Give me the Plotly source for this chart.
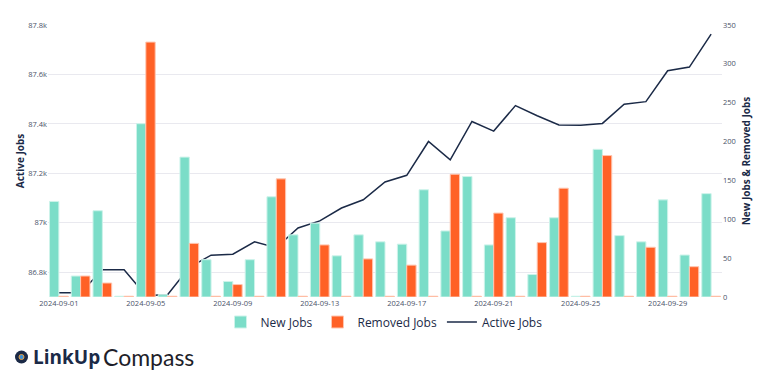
import plotly.graph_objects as go
import pandas as pd

dates = pd.date_range("2024-09-01", "2024-10-01", freq="D").strftime("%Y-%m-%d").tolist()

new_jobs = [123, 27, 111, 1, 223, 3, 180, 48, 20, 48, 129, 80, 95, 53, 80, 71, 68, 138,
            85, 155, 67, 102, 29, 102, 1, 190, 79, 71, 125, 54, 133]
removed_jobs = [1, 27, 18, 1, 328, 1, 69, 1, 16, 1, 152, 1, 67, 1, 49, 1, 41, 1,
                158, 1, 108, 1, 70, 140, 1, 182, 1, 64, 1, 39, 1]
active_jobs = [86717, 86717, 86810, 86810, 86706, 86709, 86820, 86869, 86873, 86923, 86899,
               86979, 87008, 87060, 87093, 87165, 87192, 87329, 87255, 87410, 87371,
               87474, 87433, 87396, 87395, 87402, 87480, 87490, 87615, 87630, 87763]

TEAL = "#7BDDC8"
ORANGE = "#FF6126"
NAVY = "#1B2A47"
TICK = "#4A5268"
FONT = "Open Sans"

# page is offset by the 8px body margin
OFF = 8

fig = go.Figure()
fig.add_trace(go.Bar(x=dates, y=new_jobs, name="New Jobs", yaxis="y2",
                     marker=dict(color=TEAL, line=dict(color="#CDF3EA", width=1))))
fig.add_trace(go.Bar(x=dates, y=removed_jobs, name="Removed Jobs", yaxis="y2",
                     marker=dict(color=ORANGE, line=dict(color="#FFC6B0", width=1))))
fig.add_trace(go.Scatter(x=dates, y=active_jobs, name="Active Jobs", mode="lines",
                         line=dict(color=NAVY, width=1.5)))

fig.update_layout(
    width=768, height=382,
    margin=dict(l=48 - OFF, r=46 + OFF, t=25 - OFF, b=85 + OFF, autoexpand=False),
    paper_bgcolor="white", plot_bgcolor="white",
    font=dict(family=FONT, color=TICK, size=8),
    barmode="group", bargap=0.14, bargroupgap=0,
    showlegend=True,
    legend=dict(orientation="h", x=(384 - OFF) / 768, xanchor="center", xref="container",
                y=1 - (322 - OFF) / 382, yanchor="middle", yref="container",
                font=dict(size=12, color=NAVY, family=FONT),
                traceorder="normal"),
    xaxis=dict(type="date", range=["2024-08-31 12:00", "2024-10-01 12:00"],
               tick0="2024-09-01", dtick=4 * 86400000, tickformat="%Y-%m-%d",
               showgrid=False, zeroline=False, showline=False, ticks="", automargin=False,
               tickfont=dict(size=7.5, color=TICK)),
    yaxis=dict(range=[86700, 87800], dtick=200, tickformat="~s", automargin=False,
               showgrid=True, gridcolor="#E9E9EF", zeroline=False, ticks="",
               title=dict(text="<b>Active Jobs</b>", font=dict(size=10, color=NAVY), standoff=1),
               tickfont=dict(size=7.5, color=TICK)),
    yaxis2=dict(range=[0, 350], dtick=50, overlaying="y", side="right", automargin=False,
                showgrid=False, zeroline=False, ticks="",
                title=dict(text="<b>New Jobs &amp; Removed Jobs</b>", font=dict(size=10, color=NAVY), standoff=8),
                tickfont=dict(size=7.5, color=TICK)),
)

# Logo
fig.add_shape(type="circle", xref="paper", yref="paper",
              x0=(15 - 48) / 674, x1=(28 - 48) / 674, y0=(297 - 363.5) / 272, y1=(297 - 350.5) / 272,
              fillcolor=NAVY, line=dict(color=NAVY, width=0))
fig.add_shape(type="circle", xref="paper", yref="paper",
              x0=(19 - 48) / 674, x1=(24 - 48) / 674, y0=(297 - 359.5) / 272, y1=(297 - 354.5) / 272,
              fillcolor="#3A8FD8", line=dict(color="#F2A23A", width=1))
fig.add_annotation(xref="paper", yref="paper", x=(31 - 48) / 674, y=(297 - 357) / 272,
                   xanchor="left", yanchor="middle",
                   text="<b>LinkUp</b>", showarrow=False,
                   font=dict(family=FONT, size=19, color=NAVY))
fig.add_annotation(xref="paper", yref="paper", x=(101 - 48) / 674, y=(297 - 357) / 272,
                   xanchor="left", yanchor="middle",
                   text="Compass", showarrow=False,
                   font=dict(family="Lato", size=23, color="#1E1E2A"))

fig.write_html("out.html")
